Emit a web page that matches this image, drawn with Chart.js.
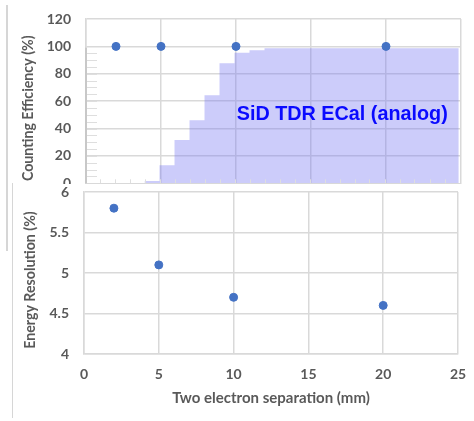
<!DOCTYPE html>
<html>
<head>
<meta charset="utf-8">
<script src="https://cdn.jsdelivr.net/npm/chart.js@4"></script>
<style>
  body { margin: 0; background: #fff; }
  #wrap { position: relative; width: 474px; height: 421px; overflow: hidden; }
  canvas { position: absolute; left: 0; }
  #top-chart { top: 0; }
  #bottom-chart { top: 184px; background: #fff; }
  .edge { position: absolute; background: #d6d6d6; }
</style>
</head>
<body>
<div id="wrap">
  <canvas id="top-chart" width="474" height="200"></canvas>
  <canvas id="bottom-chart" width="474" height="237"></canvas>
  <div class="edge" style="left:6px; top:5px; width:2px; height:246px"></div>
  <div class="edge" style="left:12px; top:183px; width:1px; height:235px"></div>
</div>
<script>
const SEPARATION = [2, 5, 10, 20];
const EFFICIENCY = [100, 100, 100, 100];
const RESOLUTION = [5.8, 5.1, 4.7, 4.6];

// the overlaid SiD plot: left bin edges (last one closes the last bin) and bin heights
const BIN_EDGES = [3.9, 4.9, 5.9, 6.9, 7.9, 8.9, 9.9, 10.9, 11.9, 24.85];
const BIN_EFFICIENCY = [1.7, 13.1, 31.6, 46, 64.3, 87.7, 95.4, 97.2, 98.6, 98.6];

const X_TICKS = [0, 5, 10, 15, 20, 25];
const EFF_TICKS = [0, 20, 40, 60, 80, 100, 120];
const RES_TICKS = [4, 4.5, 5, 5.5, 6];

const LABEL_TEXT = 'SiD TDR ECal (analog)';

const GRAY = '#595959';
const GRID = '#d9d9d9';
const BLUE = '#4472c4';

// en spaces at the end nudge the rotated titles a bit lower, like in the slide
const PAD = '\u2002\u2002';

Chart.defaults.font.family = 'Lato, "Open Sans", sans-serif';
Chart.defaults.color = GRAY;
Chart.defaults.animation = false;

function toPoints(xs, ys) {
    return xs.map((x, i) => ({ x: x, y: ys[i] }));
}

function setTicks(list) {
    return function (scale) {
        scale.ticks = list.map(v => ({ value: v }));
    };
}

// gap between label and axis done with an invisible tick mark,
// ticks.padding would also push the chart area in
function grid(gap) {
    return {
        color: GRID, lineWidth: 1.5,
        drawTicks: gap > 0, tickLength: gap, tickColor: 'rgba(0,0,0,0)'
    };
}

const tickFont = { size: 14, weight: 'bold', lineHeight: 1 };
const titleFont = { size: 14.2, weight: 'bold', lineHeight: 1.2 };
const xTitleFont = { size: 15, weight: 'bold', lineHeight: 1.2 };

// label and the little tick marks of the pasted plot
const overlayPlugin = {
    id: 'overlay',
    afterDatasetsDraw(chart) {
        const ctx = chart.ctx;
        const x = chart.scales.x;
        const y = chart.scales.y;
        const left = x.getPixelForValue(0);
        const bottom = y.getPixelForValue(0);

        ctx.save();
        ctx.strokeStyle = '#dedede';
        ctx.lineWidth = 1;
        ctx.beginPath();
        for (let v = 5; v < 100; v += 5) {
            let py = Math.round(y.getPixelForValue(v)) + 0.5;
            ctx.moveTo(left, py);
            ctx.lineTo(left + 11, py);
        }
        for (let v = 0.9; v < 24.5; v += 1) {
            let px = Math.round(x.getPixelForValue(v)) + 0.5;
            ctx.moveTo(px, bottom);
            ctx.lineTo(px, bottom - 4);
        }
        ctx.stroke();

        ctx.strokeStyle = '#c8c8c8';
        ctx.lineWidth = 2;
        ctx.beginPath();
        ctx.moveTo(left, y.getPixelForValue(99));
        ctx.lineTo(left, bottom);
        ctx.stroke();

        ctx.font = 'bold 19.8px "Liberation Sans", Arial, sans-serif';
        ctx.fillStyle = '#0a0aff';
        ctx.textAlign = 'left';
        ctx.textBaseline = 'middle';
        ctx.fillText(LABEL_TEXT, x.getPixelForValue(10.05), y.getPixelForValue(50.3));
        ctx.restore();
    }
};

new Chart(document.getElementById('top-chart'), {
    type: 'scatter',
    data: {
        datasets: [{
            data: toPoints(SEPARATION, EFFICIENCY),
            backgroundColor: BLUE,
            borderColor: BLUE,
            pointRadius: 4,
            order: 0
        }, {
            type: 'line',
            data: toPoints(BIN_EDGES, BIN_EFFICIENCY),
            stepped: true,
            fill: 'origin',
            backgroundColor: 'rgba(120, 120, 242, 0.38)',
            borderWidth: 0,
            pointRadius: 0,
            order: 1
        }]
    },
    options: {
        responsive: false,
        layout: { padding: { left: 0, right: 13, top: 19, bottom: 0 } },
        plugins: { legend: { display: false }, tooltip: { enabled: false } },
        scales: {
            x: {
                type: 'linear', min: 0, max: 25,
                afterBuildTicks: setTicks(X_TICKS),
                afterFit: s => { s.height = 16.7; },
                ticks: { display: false },
                grid: grid(0),
                border: { color: GRID, width: 1.5 }
            },
            y: {
                min: 0, max: 120,
                afterBuildTicks: setTicks(EFF_TICKS),
                afterFit: s => { s.width = 86; },
                ticks: { font: tickFont, padding: 0 },
                grid: grid(15),
                border: { color: GRID, width: 1.5 },
                title: {
                    display: true, text: 'Counting Efficiency (%)' + PAD,
                    font: titleFont, padding: { top: 19.5, bottom: 0 }
                }
            }
        }
    },
    plugins: [overlayPlugin]
});

new Chart(document.getElementById('bottom-chart'), {
    type: 'scatter',
    data: {
        datasets: [{
            data: toPoints(SEPARATION, RESOLUTION),
            backgroundColor: BLUE,
            borderColor: BLUE,
            pointRadius: 4
        }]
    },
    options: {
        responsive: false,
        layout: { padding: { left: 0, right: 16, top: 8, bottom: 0 } },
        plugins: { legend: { display: false }, tooltip: { enabled: false } },
        scales: {
            x: {
                type: 'linear', min: 0, max: 25,
                afterBuildTicks: setTicks(X_TICKS),
                afterFit: s => { s.height = 67; },
                ticks: { font: tickFont, padding: 0, callback: v => String(v) },
                grid: grid(13),
                border: { color: GRID, width: 1.5 },
                title: {
                    display: true, text: 'Two electron separation (mm)',
                    font: xTitleFont, padding: { top: 9, bottom: 14 }
                }
            },
            y: {
                min: 4, max: 6,
                afterBuildTicks: setTicks(RES_TICKS),
                afterFit: s => { s.width = 84; },
                ticks: { font: tickFont, padding: 0, callback: v => String(v) },
                grid: grid(15),
                border: { color: GRID, width: 1.5 },
                title: {
                    display: true, text: 'Energy Resolution (%)' + PAD,
                    font: titleFont, padding: { top: 22, bottom: 0 }
                }
            }
        }
    }
});
</script>
</body>
</html>
